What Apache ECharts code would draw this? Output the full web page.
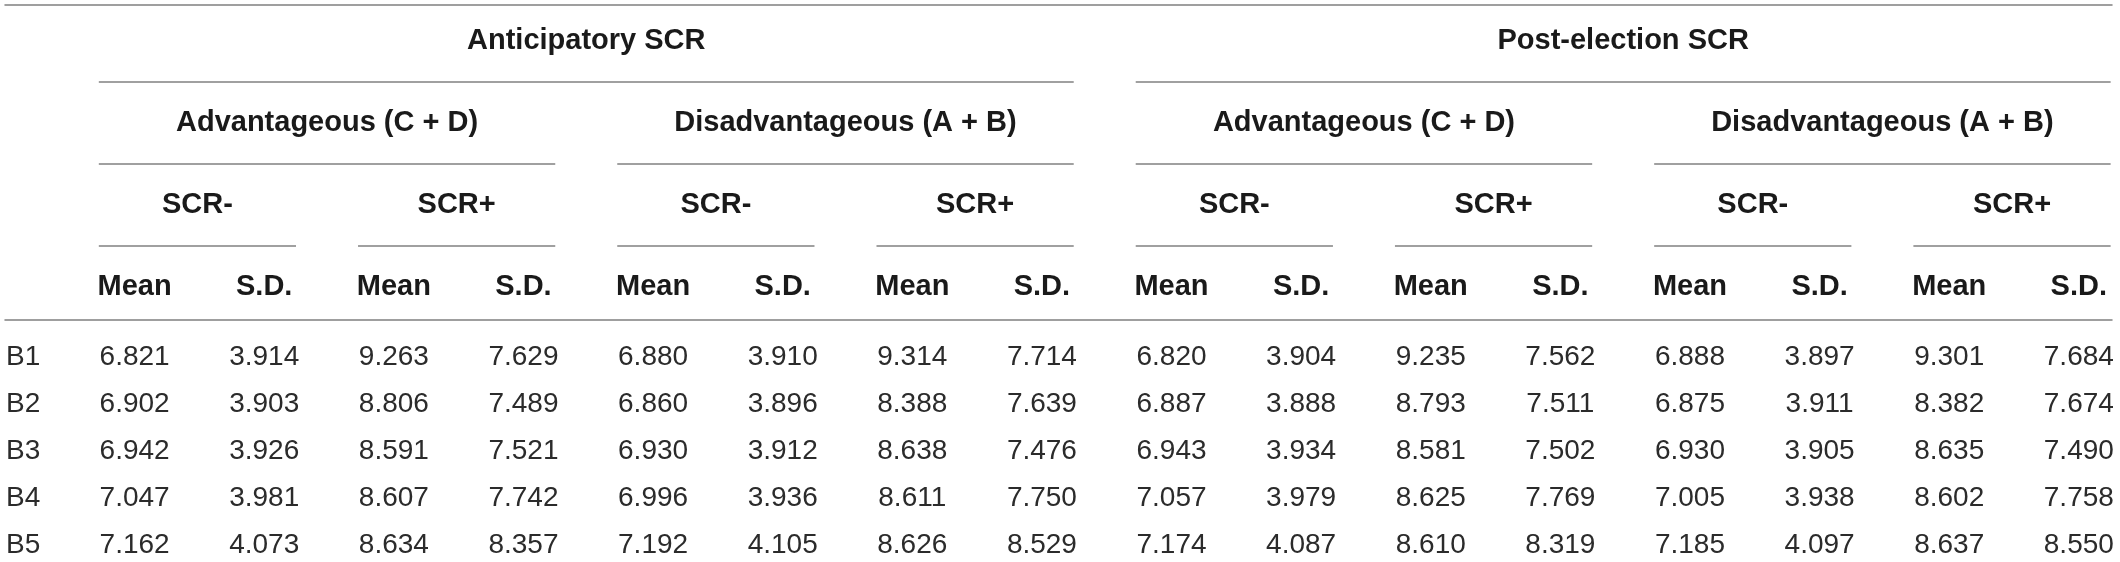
<!DOCTYPE html>
<html>
<head>
<meta charset="utf-8">
<script src="https://cdn.jsdelivr.net/npm/echarts@6/dist/echarts.min.js"></script>
<style>
html,body{margin:0;padding:0;background:#fff;}
#chart{width:2120px;height:562px;}
</style>
</head>
<body>
<div id="chart"></div>
<script>
// ---- data ----
const phases = ['Anticipatory SCR', 'Post-election SCR'];
const decks = ['Advantageous (C + D)', 'Disadvantageous (A + B)'];
const scrGroups = ['SCR-', 'SCR+'];
const stats = ['Mean', 'S.D.'];
const rowLabels = ['B1', 'B2', 'B3', 'B4', 'B5'];
const B1 = [6.821, 3.914, 9.263, 7.629, 6.880, 3.910, 9.314, 7.714, 6.820, 3.904, 9.235, 7.562, 6.888, 3.897, 9.301, 7.684];
const B2 = [6.902, 3.903, 8.806, 7.489, 6.860, 3.896, 8.388, 7.639, 6.887, 3.888, 8.793, 7.511, 6.875, 3.911, 8.382, 7.674];
const B3 = [6.942, 3.926, 8.591, 7.521, 6.930, 3.912, 8.638, 7.476, 6.943, 3.934, 8.581, 7.502, 6.930, 3.905, 8.635, 7.490];
const B4 = [7.047, 3.981, 8.607, 7.742, 6.996, 3.936, 8.611, 7.750, 7.057, 3.979, 8.625, 7.769, 7.005, 3.938, 8.602, 7.758];
const B5 = [7.162, 4.073, 8.634, 8.357, 7.192, 4.105, 8.626, 8.529, 7.174, 4.087, 8.610, 8.319, 7.185, 4.097, 8.637, 8.550];
const rowValues = [B1, B2, B3, B4, B5];

// ---- build table items ----
const FONT = '"Liberation Sans", Arial, Helvetica, sans-serif';
const LINE = '#808080';
const headerItems = [];
// level 0: phases spanning 8 columns
phases.forEach((t, i) => headerItems.push([0, i * 8, i * 8 + 7, t, 1]));
// level 1: deck groups spanning 4 columns
for (let i = 0; i < phases.length * decks.length; i++) headerItems.push([1, i * 4, i * 4 + 3, decks[i % 2], 1]);
// level 2: SCR groups spanning 2 columns
for (let i = 0; i < 8; i++) headerItems.push([2, i * 2, i * 2 + 1, scrGroups[i % 2], 1]);
// level 3: Mean / S.D.
for (let i = 0; i < 16; i++) headerItems.push([3, i, i, stats[i % 2], 0]);

const cellItems = [];
rowValues.forEach((vals, r) => vals.forEach((v, c) => cellItems.push([c, r, v])));
const labelItems = rowLabels.map((l, r) => [-1, r, l]);

const axisHidden = {show: false};
const xCommon = {
  type: 'value', min: -1, max: 15.256, position: 'top',
  axisLine: {show: true, onZero: false, lineStyle: {color: LINE, width: 1.5}},
  axisTick: {show: false}, axisLabel: {show: false}, splitLine: {show: false}
};

const option = {
  backgroundColor: '#fff',
  animation: false,
  grid: [
    {left: 5, right: 8, top: 5, height: 315},
    {left: 5, right: 8, top: 320, bottom: 0}
  ],
  xAxis: [
    Object.assign({gridIndex: 0}, xCommon),
    Object.assign({gridIndex: 1}, xCommon)
  ],
  yAxis: [
    {gridIndex: 0, type: 'value', inverse: true, min: -0.44, max: 3.40, show: false},
    {gridIndex: 1, type: 'value', inverse: true, min: -0.787, max: 4.362, show: false}
  ],
  series: [
    {
      type: 'custom', xAxisIndex: 0, yAxisIndex: 0,
      data: headerItems,
      renderItem: function (params, api) {
        const level = api.value(0), s = api.value(1), e = api.value(2);
        const text = headerItems[params.dataIndex][3];
        const under = headerItems[params.dataIndex][4];
        const x0 = api.coord([s - 0.5, level])[0];
        const x1 = api.coord([e + 0.5, level])[0];
        const y = api.coord([s, level])[1];
        const children = [];
        let cx;
        if (under) {
          const yl = Math.round(api.coord([s, level + 0.5])[1]);
          const lx0 = x0 + 29, lx1 = x1 - 33;
          cx = (lx0 + lx1) / 2;
          children.push({type: 'line', shape: {x1: lx0, y1: yl, x2: lx1, y2: yl},
            style: {stroke: LINE, lineWidth: 1.5}});
        } else {
          cx = (x0 + x1) / 2;
        }
        children.push({type: 'text', x: cx, y: y,
          style: {text: text, fill: '#1a1a1a', font: 'bold 29px ' + FONT,
            align: 'center', verticalAlign: 'middle'}});
        return {type: 'group', children: children};
      }
    },
    {
      type: 'custom', xAxisIndex: 1, yAxisIndex: 1,
      data: cellItems,
      renderItem: function (params, api) {
        const p = api.coord([api.value(0), api.value(1)]);
        return {type: 'text', x: p[0], y: p[1],
          style: {text: api.value(2).toFixed(3), fill: '#2b2b2b', font: '28px ' + FONT,
            align: 'center', verticalAlign: 'middle'}};
      }
    },
    {
      type: 'custom', xAxisIndex: 1, yAxisIndex: 1,
      data: labelItems,
      renderItem: function (params, api) {
        const p = api.coord([api.value(0), api.value(1)]);
        return {type: 'text', x: p[0] + 1, y: p[1],
          style: {text: labelItems[params.dataIndex][2], fill: '#2b2b2b', font: '28px ' + FONT,
            align: 'left', verticalAlign: 'middle'}};
      }
    }
  ]
};

const chart = echarts.init(document.getElementById('chart'), null, {renderer: 'canvas'});
chart.setOption(option);
</script>
</body>
</html>
